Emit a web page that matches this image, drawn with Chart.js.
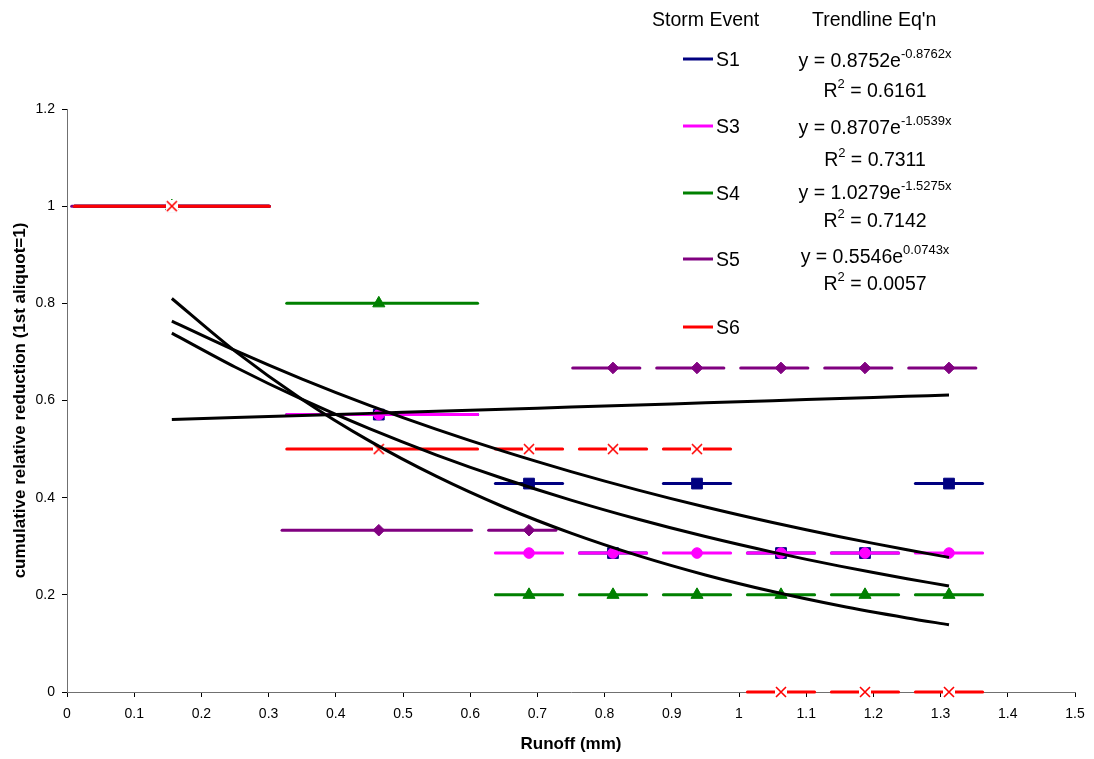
<!DOCTYPE html>
<html>
<head>
<meta charset="utf-8">
<script src="https://cdn.jsdelivr.net/npm/chart.js@4.4.1/dist/chart.umd.min.js"></script>
<style>
  html, body { margin: 0; padding: 0; background: #fff; }
  #wrap { width: 1094px; height: 759px; }
</style>
</head>
<body>
<div id="wrap"><canvas id="runoffChart" width="1094" height="759"></canvas></div>
<script>
// runoff (mm) at each aliquot, shared by all storm events
const runoff = [0.156, 0.464, 0.6875, 0.8125, 0.9375, 1.0625, 1.1875, 1.3125];

// cumulative relative reduction per storm event
const s1 = [1, 0.571, 0.429, 0.286, 0.429, 0.286, 0.286, 0.429];
const s3 = [1, 0.571, 0.286, 0.286, 0.286, 0.286, 0.286, 0.286];
const s4 = [1, 0.8, 0.2, 0.2, 0.2, 0.2, 0.2, 0.2];
const s5 = [1, 0.333, 0.333, 0.667, 0.667, 0.667, 0.667, 0.667];
const s6 = [1, 0.5, 0.5, 0.5, 0.5, 0, 0, 0];

// horizontal error bars (runoff interval of each aliquot)
const errLo = [0.145, 0.137, 0.05, 0.05, 0.05, 0.05, 0.05, 0.05];
const errHi = [0.145, 0.147, 0.05, 0.05, 0.05, 0.05, 0.05, 0.05];
const s5ErrLo = [0.149, 0.144, 0.06, 0.06, 0.06, 0.06, 0.06, 0.06];
const s5ErrHi = [0.145, 0.138, 0.04, 0.04, 0.04, 0.04, 0.04, 0.04];

// exponential trendlines
const trendX = [0.156, 0.25, 0.35, 0.45, 0.55, 0.65, 0.75, 0.85, 0.95, 1.05, 1.15, 1.25, 1.3125];
const trendS1 = [0.7634, 0.7031, 0.6441, 0.5900, 0.5405, 0.4952, 0.4537, 0.4156, 0.3807, 0.3488, 0.3195, 0.2927, 0.2771];
const trendS3 = [0.7387, 0.6690, 0.6021, 0.5419, 0.4877, 0.4389, 0.3950, 0.3555, 0.3199, 0.2879, 0.2591, 0.2332, 0.2183];
const trendS4 = [0.8100, 0.7016, 0.6022, 0.5169, 0.4437, 0.3808, 0.3269, 0.2806, 0.2408, 0.2067, 0.1774, 0.1523, 0.1385];
const trendS5 = [0.5611, 0.5650, 0.5692, 0.5735, 0.5777, 0.5820, 0.5864, 0.5908, 0.5952, 0.5996, 0.6041, 0.6086, 0.6114];

// legend text
const seriesNames = ["S1", "S3", "S4", "S5", "S6"];
const eqCoef = ["0.8752", "0.8707", "1.0279", "0.5546"];
const eqExp = ["-0.8762x", "-1.0539x", "-1.5275x", "0.0743x"];
const eqR2 = ["0.6161", "0.7311", "0.7142", "0.0057"];

const FONT = "'Liberation Sans', Arial, sans-serif";
const colors = ["#000080", "#ff00ff", "#008000", "#800080", "#ff0000"];

// S6 marker: red x on a white square, like the Excel one
function crossMarker() {
    const c = document.createElement("canvas");
    c.width = 12;
    c.height = 12;
    const g = c.getContext("2d");
    g.fillStyle = "#fff";
    g.fillRect(0, 0, 12, 12);
    g.strokeStyle = "#ff0000";
    g.lineWidth = 1.6;
    g.beginPath();
    g.moveTo(1, 1); g.lineTo(11, 11);
    g.moveTo(11, 1); g.lineTo(1, 11);
    g.stroke();
    return c;
}

const markers = ["rect", "circle", "triangle", "rectRot", crossMarker()];
const markerSize = [7.6, 5.3, 7, 5.8, 6];

function pts(xs, ys) {
    return xs.map((x, i) => ({ x: x, y: ys[i] }));
}

function tickText(v) {
    return String(Math.round(v * 10) / 10);
}

const errorBarPlugin = {
    id: "errorBars",
    beforeDatasetDraw(chart, args) {
        const ds = chart.data.datasets[args.index];
        if (!ds.errLo) return;
        const xs = chart.scales.x;
        const ys = chart.scales.y;
        const ctx = chart.ctx;
        ctx.save();
        ctx.strokeStyle = ds.borderColor;
        ctx.lineWidth = 3;
        ctx.lineCap = "round";
        ds.data.forEach((p, i) => {
            const y = ys.getPixelForValue(p.y);
            ctx.beginPath();
            ctx.moveTo(xs.getPixelForValue(p.x - ds.errLo[i]), y);
            ctx.lineTo(xs.getPixelForValue(p.x + ds.errHi[i]), y);
            ctx.stroke();
        });
        ctx.restore();
    }
};

function drawWithSup(ctx, main, sup, rest, cx, baseline) {
    ctx.font = "19.5px " + FONT;
    const w1 = ctx.measureText(main).width;
    const w3 = ctx.measureText(rest).width;
    ctx.font = "13px " + FONT;
    const w2 = ctx.measureText(sup).width;
    const x0 = cx - (w1 + w2 + w3) / 2;
    ctx.font = "19.5px " + FONT;
    ctx.fillText(main, x0, baseline);
    ctx.fillText(rest, x0 + w1 + w2, baseline);
    ctx.font = "13px " + FONT;
    ctx.fillText(sup, x0 + w1, baseline - 9);
}

const legendPlugin = {
    id: "stormLegend",
    afterDraw(chart) {
        const ctx = chart.ctx;
        const rowY = [59, 126, 193, 259, 327];
        const eqY = [67, 134, 199, 263];
        const r2Y = [97, 166, 227, 290];
        ctx.save();
        ctx.fillStyle = "#000";
        ctx.textAlign = "left";
        ctx.textBaseline = "alphabetic";
        ctx.font = "19.5px " + FONT;
        ctx.fillText("Storm Event", 652, 26);
        ctx.fillText("Trendline Eq'n", 812, 26);

        seriesNames.forEach((name, i) => {
            ctx.strokeStyle = colors[i];
            ctx.lineWidth = 3;
            ctx.beginPath();
            ctx.moveTo(683, rowY[i]);
            ctx.lineTo(713, rowY[i]);
            ctx.stroke();
            ctx.font = "19.5px " + FONT;
            ctx.fillText(name, 716, rowY[i] + 7);
        });

        eqCoef.forEach((a, i) => {
            drawWithSup(ctx, "y = " + a + "e", eqExp[i], "", 875, eqY[i]);
            drawWithSup(ctx, "R", "2", " = " + eqR2[i], 875, r2Y[i]);
        });
        ctx.restore();
    }
};

const seriesData = [s1, s3, s4, s5, s6];
const datasets = seriesData.map((vals, i) => ({
    label: seriesNames[i],
    data: pts(runoff, vals),
    showLine: false,
    clip: false,
    borderColor: colors[i],
    backgroundColor: colors[i],
    pointStyle: markers[i],
    pointRadius: markerSize[i],
    pointBorderWidth: 1,
    pointBackgroundColor: colors[i],
    pointBorderColor: colors[i],
    errLo: seriesNames[i] === "S5" ? s5ErrLo : errLo,
    errHi: seriesNames[i] === "S5" ? s5ErrHi : errHi,
    order: 5 - i
}));

[trendS1, trendS3, trendS4, trendS5].forEach((vals, i) => {
    datasets.push({
        label: "Expon. (" + seriesNames[i] + ")",
        data: pts(trendX, vals),
        showLine: true,
        borderColor: "#000",
        borderWidth: 3,
        pointRadius: 0,
        tension: 0.3,
        fill: false,
        order: 0
    });
});

new Chart(document.getElementById("runoffChart"), {
    type: "scatter",
    data: { datasets: datasets },
    options: {
        responsive: false,
        animation: false,
        devicePixelRatio: 1,
        layout: { padding: { top: 109, right: 19, bottom: 0, left: 0 } },
        plugins: {
            legend: { display: false },
            tooltip: { enabled: false }
        },
        scales: {
            x: {
                type: "linear",
                min: 0,
                max: 1.5,
                ticks: {
                    stepSize: 0.1,
                    autoSkip: false,
                    maxRotation: 0,
                    color: "#000",
                    padding: 9,
                    font: { family: FONT, size: 14 },
                    callback: tickText
                },
                grid: { drawOnChartArea: false, tickLength: 5, tickColor: "#000" },
                border: { color: "#707070", width: 1 },
                title: {
                    display: true,
                    text: "Runoff (mm)",
                    color: "#000",
                    font: { family: FONT, size: 17, weight: "bold" },
                    padding: { top: 0, bottom: 4 }
                },
                afterFit(scale) { scale.height = 67; }
            },
            y: {
                type: "linear",
                min: 0,
                max: 1.2,
                ticks: {
                    stepSize: 0.2,
                    color: "#000",
                    padding: 7,
                    font: { family: FONT, size: 14 },
                    callback: tickText
                },
                grid: { drawOnChartArea: false, tickLength: 5, tickColor: "#000" },
                border: { color: "#707070", width: 1 },
                title: {
                    display: true,
                    text: "cumulative relative reduction (1st aliquot=1)",
                    color: "#000",
                    font: { family: FONT, size: 17, weight: "bold" },
                    padding: { top: 10, bottom: 0 }
                },
                afterFit(scale) { scale.width = 67; }
            }
        }
    },
    plugins: [errorBarPlugin, legendPlugin]
});
</script>
</body>
</html>
